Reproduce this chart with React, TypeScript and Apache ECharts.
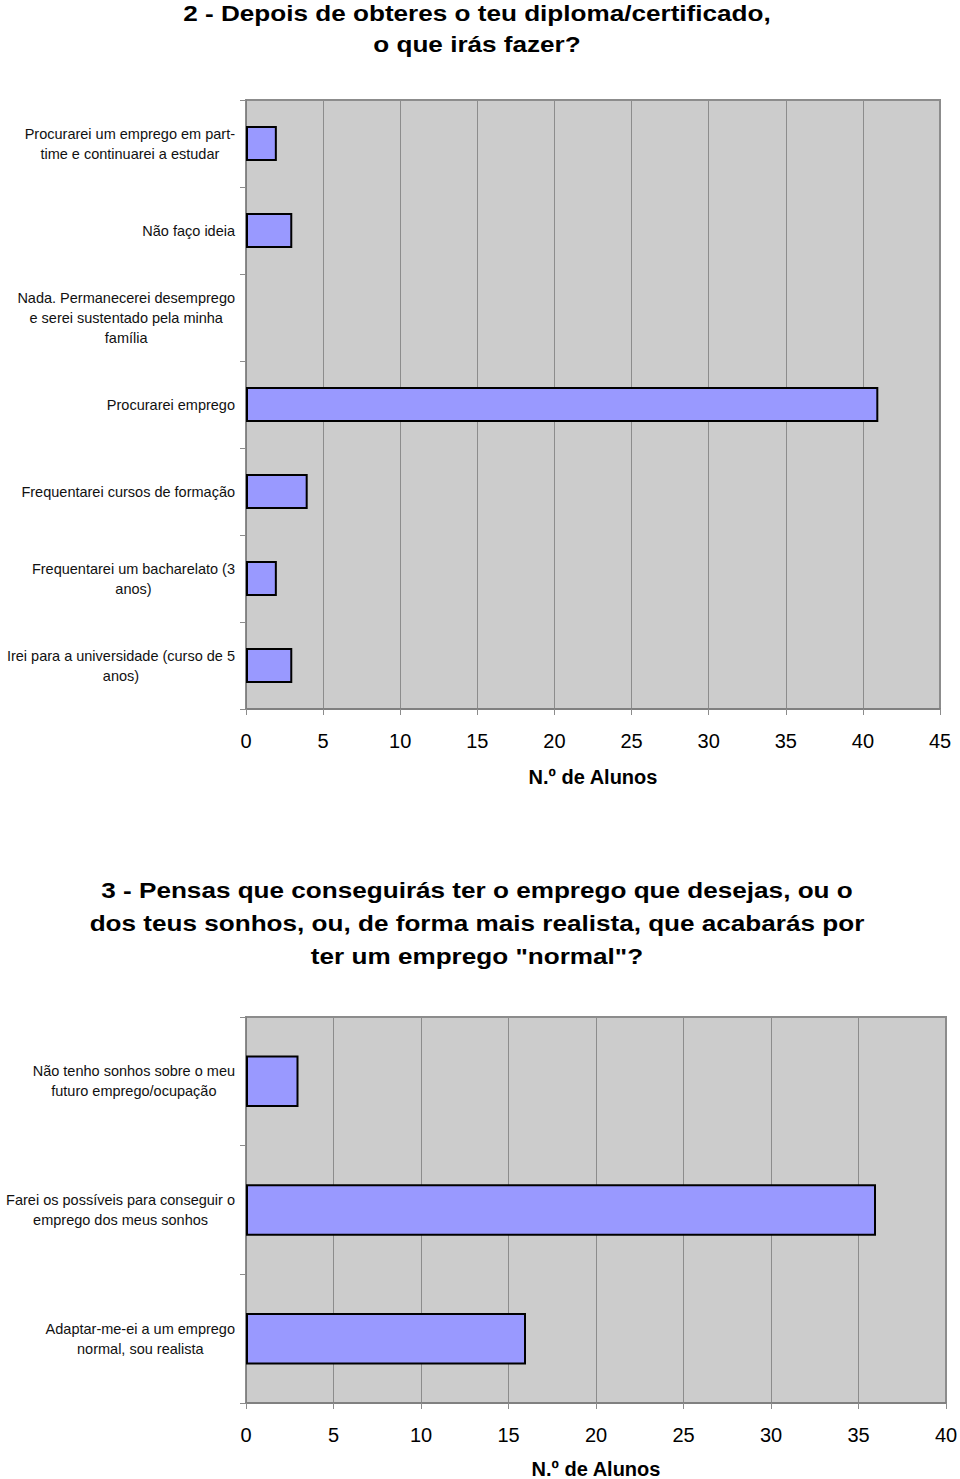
import React, { useEffect, useRef } from "react";
import * as echarts from "echarts";

const title1Lines = ["2 - Depois de obteres o teu diploma/certificado,", "o que irás fazer?"];
const categories1 = [
  "Procurarei um emprego em part-\ntime e continuarei a estudar",
  "Não faço ideia",
  "Nada. Permanecerei desemprego\ne serei sustentado pela minha\nfamília",
  "Procurarei emprego",
  "Frequentarei cursos de formação",
  "Frequentarei um bacharelato (3\nanos)",
  "Irei para a universidade (curso de 5\nanos)",
];
const values1 = [2, 3, 0, 41, 4, 2, 3];
const axisMax1 = 45;

const title2Lines = [
  "3 - Pensas que conseguirás ter o emprego que desejas, ou o",
  "dos teus sonhos, ou, de forma mais realista, que acabarás por",
  "ter um emprego \"normal\"?",
];
const categories2 = [
  "Não tenho sonhos sobre o meu\nfuturo emprego/ocupação",
  "Farei os possíveis para conseguir o\nemprego dos meus sonhos",
  "Adaptar-me-ei a um emprego\nnormal, sou realista",
];
const values2 = [3, 36, 16];
const axisMax2 = 40;
const axisName = "N.º de Alunos";

const FONT = '"Liberation Sans", Arial, Helvetica, sans-serif';

function catLabel(v: string) {
  return v
    .split("\n")
    .map((l) => "{c|" + l + "}")
    .join("\n");
}

function xAxisCfg(gridIndex: number, max: number, nameGap: number) {
  return {
    type: "value",
    gridIndex,
    min: 0,
    max,
    interval: 5,
    name: axisName,
    nameLocation: "middle",
    nameGap,
    nameTextStyle: { fontFamily: FONT, fontSize: 20, fontWeight: "bold", color: "#000" },
    axisLine: { show: true, lineStyle: { color: "#808080", width: 2 } },
    axisTick: { show: true, length: 6, lineStyle: { color: "#8c8c8c", width: 1 } },
    axisLabel: { fontFamily: FONT, fontSize: 20, color: "#000", margin: 22 },
    splitLine: { show: true, lineStyle: { color: "#8c8c8c", width: 1 } },
  };
}

function yAxisCfg(gridIndex: number, cats: string[]) {
  return {
    type: "category",
    gridIndex,
    data: cats,
    inverse: true,
    axisLine: { show: true, lineStyle: { color: "#808080", width: 1 } },
    axisTick: { show: true, length: 6, alignWithLabel: false, lineStyle: { color: "#8c8c8c", width: 1 } },
    splitLine: { show: false },
    axisLabel: {
      margin: 11,
      formatter: (v: string) => catLabel(v),
      rich: {
        c: { align: "center", fontFamily: FONT, fontSize: 14.5, lineHeight: 20, color: "#111" },
      },
    },
  };
}

function barSeries(idx: number, vals: number[]) {
  return {
    type: "bar",
    xAxisIndex: idx,
    yAxisIndex: idx,
    barWidth: "40%",
    itemStyle: { color: "#9999ff", borderColor: "#000", borderWidth: 2 },
    data: vals.map((v) => (v === 0 ? { value: v, itemStyle: { borderWidth: 0 } } : v)),
  };
}

function titleTexts(lines: string[], y0: number, step: number) {
  return lines.map((line, i) => ({
    type: "text",
    x: 477,
    y: y0 + i * step,
    scaleX: 1.215,
    style: {
      text: line,
      fontFamily: FONT,
      fontSize: 21.5,
      fontWeight: "bold",
      fill: "#000",
      align: "center",
      verticalAlign: "middle",
      textAlign: "center",
      textVerticalAlign: "middle",
    },
  }));
}

export default function App() {
  const ref = useRef<HTMLDivElement>(null);
  useEffect(() => {
    if (!ref.current) return;
    const chart = echarts.init(ref.current, null, { renderer: "svg" });
    chart.setOption({
      animation: false,
      backgroundColor: "#ffffff",
      graphic: [...titleTexts(title1Lines, 13, 31), ...titleTexts(title2Lines, 890.5, 33)],
      grid: [
        { left: 246, top: 100, width: 694, height: 609, show: true, backgroundColor: "#cccccc", borderColor: "#8c8c8c", borderWidth: 2, containLabel: false, outerBoundsMode: "none" },
        { left: 246, top: 1017, width: 700, height: 386, show: true, backgroundColor: "#cccccc", borderColor: "#8c8c8c", borderWidth: 2, containLabel: false, outerBoundsMode: "none" },
      ],
      xAxis: [xAxisCfg(0, axisMax1, 58), xAxisCfg(1, axisMax2, 56)],
      yAxis: [yAxisCfg(0, categories1), yAxisCfg(1, categories2)],
      series: [barSeries(0, values1), barSeries(1, values2)],
    });
    return () => chart.dispose();
  }, []);
  return (
    <div
      ref={ref}
      style={{ position: "absolute", left: 0, top: 0, width: 960, height: 1479 }}
    />
  );
}
